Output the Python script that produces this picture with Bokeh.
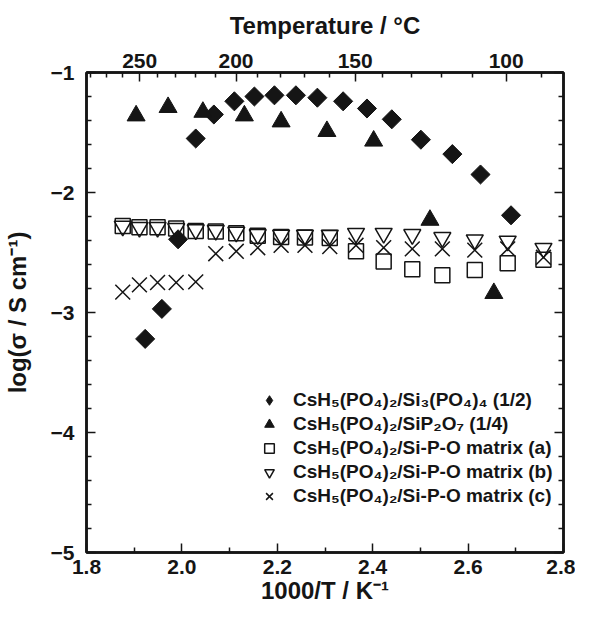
import numpy as np
from bokeh.plotting import figure
from bokeh.models import LinearAxis, FixedTicker, Legend, LegendItem, Range1d, PrintfTickFormatter
from bokeh.embed import file_html
from bokeh.resources import INLINE

# ---------------- data ----------------
x_diamond = [1.923, 1.958, 1.992, 2.029, 2.067, 2.110, 2.152, 2.194, 2.239, 2.284,
             2.338, 2.388, 2.440, 2.501, 2.567, 2.626, 2.690]
y_diamond = [-3.22, -2.97, -2.39, -1.55, -1.35, -1.24, -1.20, -1.19, -1.19, -1.21,
             -1.24, -1.30, -1.39, -1.56, -1.68, -1.85, -2.19]

x_triangle = [1.904, 1.971, 2.044, 2.131, 2.208, 2.304, 2.402, 2.520, 2.654]
y_triangle = [-1.36, -1.29, -1.33, -1.36, -1.41, -1.49, -1.57, -2.23, -2.84]

x_matrix = [1.876, 1.911, 1.949, 1.988, 2.029, 2.071, 2.114, 2.159, 2.208, 2.258,
            2.310, 2.365, 2.423, 2.483, 2.546, 2.614, 2.683, 2.758]
y_matrix_a = [-2.28, -2.29, -2.29, -2.30, -2.32, -2.325, -2.34, -2.36, -2.37, -2.375,
              -2.38, -2.49, -2.575, -2.64, -2.69, -2.645, -2.59, -2.56]
y_matrix_b = [-2.28, -2.29, -2.29, -2.30, -2.31, -2.315, -2.33, -2.35, -2.355, -2.355,
              -2.355, -2.34, -2.34, -2.35, -2.375, -2.395, -2.405, -2.465]
y_matrix_c = [-2.83, -2.77, -2.75, -2.75, -2.745, -2.51, -2.49, -2.46, -2.44, -2.44,
              -2.45, -2.44, -2.46, -2.47, -2.47, -2.48, -2.47, -2.54]

labels = ["CsH\u2085(PO\u2084)\u2082/Si\u2083(PO\u2084)\u2084 (1/2)",
          "CsH\u2085(PO\u2084)\u2082/SiP\u2082O\u2087 (1/4)",
          "CsH\u2085(PO\u2084)\u2082/Si-P-O matrix (a)",
          "CsH\u2085(PO\u2084)\u2082/Si-P-O matrix (b)",
          "CsH\u2085(PO\u2084)\u2082/Si-P-O matrix (c)"]

x_ticks = [1.8, 2.0, 2.2, 2.4, 2.6, 2.8]
x_minor = [1.9, 2.1, 2.3, 2.5, 2.7]
y_ticks = [-5, -4, -3, -2, -1]
temp_major = [250, 200, 150, 100]
temp_minor = [280, 270, 260, 240, 230, 220, 210, 190, 180, 170, 160,
              140, 130, 120, 110, 90]

FONT = "Liberation Sans"
INK = "#151515"

p = figure(width=575, height=610, x_range=Range1d(1.8, 2.8), y_range=Range1d(-5, -1),
           output_backend="svg", toolbar_location=None,
           x_axis_location=None, y_axis_location=None,
           min_border_left=83, min_border_right=12, min_border_top=72, min_border_bottom=58)
p.xgrid.visible = False
p.ygrid.visible = False
p.outline_line_color = INK
p.outline_line_width = 2.5
p.background_fill_color = "white"
p.border_fill_color = "white"


def style(ax):
    ax.axis_line_width = 2.5
    ax.axis_line_color = INK
    ax.major_tick_in = 9
    ax.major_tick_out = 0
    ax.minor_tick_in = 5
    ax.minor_tick_out = 0
    ax.major_tick_line_width = 1.5
    ax.minor_tick_line_width = 1.5
    ax.major_tick_line_color = INK
    ax.minor_tick_line_color = INK
    ax.major_label_text_font = FONT
    ax.major_label_text_font_style = "bold"
    ax.major_label_text_font_size = "21px"
    ax.major_label_text_color = INK
    ax.axis_label_text_font = FONT
    ax.axis_label_text_font_style = "bold"
    ax.axis_label_text_font_size = "24px"
    ax.axis_label_text_color = INK


y_minor = [round(v, 1) for v in np.arange(-4.8, -1.0, 0.2) if abs(v - round(v)) > 1e-6]
yticker = FixedTicker(ticks=y_ticks, minor_ticks=y_minor)

bottom = LinearAxis(ticker=FixedTicker(ticks=x_ticks, minor_ticks=x_minor),
                    formatter=PrintfTickFormatter(format="%.1f"),
                    axis_label="1000/T / K\u207b\u00b9")
style(bottom)
bottom.major_label_standoff = 7
bottom.axis_label_standoff = 0
p.add_layout(bottom, "below")

left = LinearAxis(ticker=yticker, axis_label="log(\u03c3 / S cm\u207b\u00b9)")
style(left)
left.major_label_standoff = 12
left.axis_label_standoff = 17
p.add_layout(left, "left")

# right frame side: ticks only, no labels
right = LinearAxis(ticker=yticker, major_label_overrides={t: "" for t in y_ticks})
style(right)
right.major_label_text_color = None
right.major_label_standoff = 0
p.add_layout(right, "right")

# temperature axis (top): positions of the degree-C tick labels on the 1000/T scale
tpos = lambda t: round(1000.0 / (t + 273.15), 5)
top = LinearAxis(ticker=FixedTicker(ticks=[tpos(t) for t in temp_major],
                                    minor_ticks=[tpos(t) for t in temp_minor]),
                 major_label_overrides={tpos(t): str(t) for t in temp_major},
                 axis_label="Temperature / \u00b0C")
style(top)
top.major_label_standoff = 5
top.axis_label_standoff = 12
p.add_layout(top, "above")

# ---------------- data glyphs ----------------
r_dia = p.scatter(x_diamond, y_diamond, marker="square", angle=np.pi / 4, size=13.5,
                  fill_color=INK, line_color=INK)
r_dia_key = p.scatter(x_diamond, y_diamond, marker="diamond", size=13.5,
                      fill_color=INK, line_color=INK, visible=False)
r_tri = p.scatter(x_triangle, y_triangle, marker="triangle", size=18,
                  fill_color=INK, line_color=INK)
r_sq = p.scatter(x_matrix, y_matrix_a, marker="square", size=15, fill_color=None,
                 line_color=INK, line_width=1.5)
r_inv = p.scatter(x_matrix, y_matrix_b, marker="inverted_triangle", size=17, fill_color=None,
                  line_color=INK, line_width=1.5)
r_x = p.scatter(x_matrix, y_matrix_c, marker="x", size=21, line_color=INK, line_width=1.5)

legend = Legend(items=[LegendItem(label=labels[0], renderers=[r_dia_key]),
                       LegendItem(label=labels[1], renderers=[r_tri]),
                       LegendItem(label=labels[2], renderers=[r_sq]),
                       LegendItem(label=labels[3], renderers=[r_inv]),
                       LegendItem(label=labels[4], renderers=[r_x])],
                location=(171, 44))
legend.padding = 0
legend.margin = 0
legend.spacing = 0
legend.glyph_width = 24
legend.glyph_height = 24
legend.label_height = 24
legend.label_standoff = 12
legend.border_line_color = None
legend.background_fill_alpha = 0
legend.label_text_font = FONT
legend.label_text_font_style = "bold"
legend.label_text_font_size = "19px"
legend.label_text_color = INK
p.add_layout(legend, "center")

open("out.html", "w").write(file_html(p, INLINE))
